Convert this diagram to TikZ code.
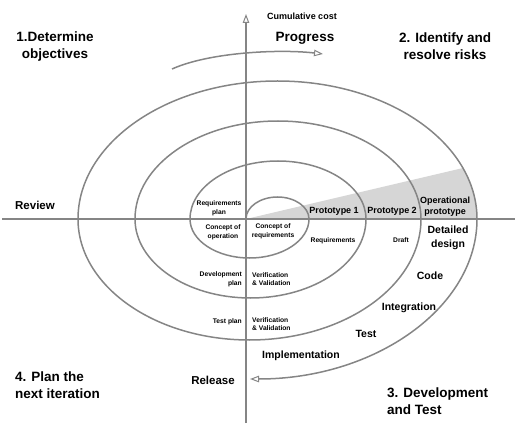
\documentclass[tikz,border=0pt]{standalone}
\usepackage{fontspec}
\setmainfont{Liberation Sans}
\usetikzlibrary{arrows.meta}
\definecolor{linegray}{HTML}{858585}
\definecolor{shadegray}{HTML}{D6D6D6}

\begin{document}
\begin{tikzpicture}[x=1pt,y=-1pt]

\tikzstyle{line} = [draw=linegray,line width=1.5pt]
\tikzstyle{arrow} = [line,-{Triangle[open,length=9pt,width=6.5pt,line width=1pt]}]
\tikzstyle{quarter} = [font=\fontsize{13.5}{17}\selectfont\bfseries,inner sep=0,align=center]
\tikzstyle{phase} = [font=\fontsize{10.5}{13.5}\selectfont\bfseries,inner sep=0,align=center]
\tikzstyle{proto} = [font=\fontsize{9}{11}\selectfont\bfseries,inner sep=0,align=center]
\tikzstyle{small} = [font=\fontsize{6.7}{8.7}\selectfont\bfseries,inner sep=0,align=center]

\useasboundingbox (0,0) rectangle (516,430);

% shaded prototype wedge
\fill[shadegray] (246,219) -- (463,168)
  arc[start angle=21.7,end angle=0,x radius=199.5pt,y radius=138pt] -- cycle;

% axes
\coordinate (west) at (2,219);
\coordinate (east) at (515,219);
\coordinate (bottom) at (246,423);
\coordinate (top) at (246,14);
\path[line] (west) -- (east);
\path[arrow] (bottom) -- (top);

% spiral
\coordinate (centre) at (246,219);
\path[arrow] (centre)
  arc[start angle=180,end angle=0,x radius=31.5pt,y radius=22pt]
  arc[start angle=0,end angle=-180,x radius=59.5pt,y radius=39pt]
  arc[start angle=180,end angle=0,x radius=88pt,y radius=58pt]
  arc[start angle=0,end angle=-180,x radius=115.5pt,y radius=79pt]
  arc[start angle=180,end angle=0,x radius=143pt,y radius=98pt]
  arc[start angle=0,end angle=-180,x radius=171.5pt,y radius=121pt]
  arc[start angle=180,end angle=0,x radius=199.5pt,y radius=138pt]
  arc[start angle=0,end angle=-90,x radius=227pt,y radius=160pt];

% progress arrow
\coordinate (prog_start) at (172,69);
\coordinate (prog_end) at (323,54);
\path[arrow] (prog_start) .. controls (210,52) and (280,49) .. (prog_end);

\node [font=\fontsize{9}{11}\selectfont\bfseries,inner sep=0] (cost) at (302,16) {Cumulative cost};
\node [quarter] (progress) at (305,38) {Progress};

\node [quarter] (objectives) at (55,47) {1.Determine\\objectives};
\node [quarter] (risks) at (445,46) {2. Identify and\\resolve risks};
\node [quarter, anchor=west, align=left] (plan_next) at (15,385) {4. Plan the\\next iteration};
\node [quarter, anchor=west, align=left] (dev_test) at (387,401) {3. Development\\and Test};

\node [font=\fontsize{11.5}{14}\selectfont\bfseries,inner sep=0] (review) at (35,205) {Review};
\node [font=\fontsize{11.5}{14}\selectfont\bfseries,inner sep=0] (release) at (213,380) {Release};

\node [phase] (implementation) at (301,356) {Implementation};
\node [phase] (test) at (366,334) {Test};
\node [phase] (integration) at (409,308) {Integration};
\node [phase] (code) at (430,276) {Code};
\node [phase] (detailed) at (448,238) {Detailed\\design};

\node [proto] (proto_1) at (334,211) {Prototype 1};
\node [proto] (proto_2) at (392,211) {Prototype 2};
\node [proto] (operational) at (445,207) {Operational\\prototype};

\node [small] (draft) at (401,240) {Draft};
\node [small] (requirements) at (333,241) {Requirements};
\node [small] (req_plan) at (219,208) {Requirements\\plan};
\node [small] (con_op) at (223,232) {Concept of\\operation};
\node [small] (con_req) at (273,231) {Concept of\\requirements};
\node [small, anchor=east, align=right] (dev_plan) at (242,279) {Development\\plan};
\node [small, anchor=west, align=left] (vv_1) at (252,279) {Verification\\\& Validation};
\node [small, anchor=east, align=right] (test_plan) at (242,322) {Test plan};
\node [small, anchor=west, align=left] (vv_2) at (252,324) {Verification\\\& Validation};

\end{tikzpicture}
\end{document}
